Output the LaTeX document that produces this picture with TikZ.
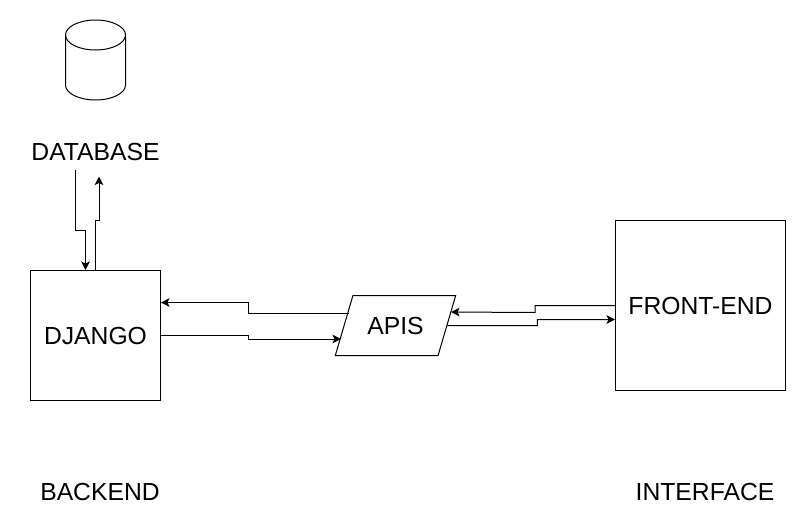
\documentclass[tikz,border=0pt]{standalone}
\usepackage{fontspec}
\setmainfont{Liberation Sans}
\usetikzlibrary{arrows.meta}
\usetikzlibrary{shapes.geometric}
\tikzset{
box/.style={draw,minimum width=130,minimum height=130,inner sep=0},
label/.style={font=\fontsize{24.7}{28}\selectfont,inner sep=0},
link/.style={-{Stealth[length=8.5pt,width=8.5pt,inset=2pt]},line width=1pt},
}
\begin{document}
\begin{tikzpicture}[x=1pt,y=-1pt,line width=1pt]
\useasboundingbox (0,0) rectangle (806,531);
% cylinder
\coordinate (db) at (95.5,35);
\draw (db) ellipse [x radius=30,y radius=15];
\draw ([xshift=-30]db) -- ++(0,50) arc [start angle=180,end angle=0,x radius=30,y radius=15] -- ([xshift=30]db);
\node[label] (dbtext) at (95.5,152) {DATABASE};
\node[box,label] (django) at (95.5,335.5) {\raisebox{-2pt}{DJANGO}};
\node[draw,label,trapezium,trapezium left angle=56.3,trapezium right angle=123.7,trapezium stretches=true,minimum width=121,minimum height=60] (apis) at (395.5,325.5) {\raisebox{-2pt}{APIS}};
\node[box,label,minimum width=170,minimum height=170] (front) at (700.5,305.5) {\raisebox{-2pt}{FRONT-END}};
\node[label] (backend) at (100,492) {BACKEND};
\node[label] (interface) at (705,492) {INTERFACE};
% database and django
\draw[link] ([shift={(-20,18)}]dbtext.center) -- ++(0,60) -- ++(10,0) -- ([xshift=-10]django.north);
\draw[link] (django.north) -- ++(0,-50) -- ++(3.5,0) -- ++(0,-43.5);
% django and apis
\draw[link] ([shift={(-46.5,-12)}]apis.center) -- ++(-101,0) -- ++(0,-11) -- ([yshift=33]django.east);
\draw[link] (django.east) -- ++(87.5,0) -- ++(0,3.5) -- ([shift={(-54.5,13.5)}]apis.center);
% apis and front-end
\draw[link] (front.west) -- ++(-80,0) -- ++(0,7) -- ([shift={(55.5,-13.5)}]apis.center);
\draw[link] (apis.east) -- ++(90,0) -- ++(0,-6) -- ([yshift=-14]front.west);
\end{tikzpicture}
\end{document}
